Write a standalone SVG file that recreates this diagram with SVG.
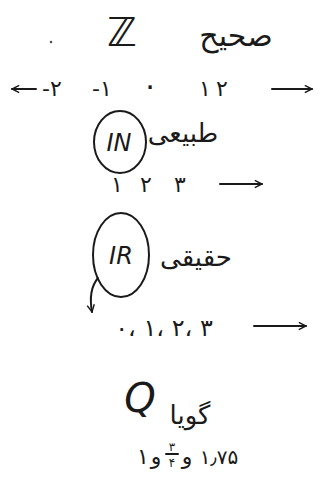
<svg xmlns="http://www.w3.org/2000/svg" width="326" height="484" viewBox="0 0 326 484">
<style>
text{font-family:"DejaVu Sans",sans-serif;fill:#1a1a1a;text-anchor:middle}
.w{font-size:26px}
.n{font-size:22px}
.big{font-size:40px;font-style:italic}
.lat{font-size:24px;font-style:italic}
.ln{fill:none;stroke:#1a1a1a;stroke-width:2;stroke-linecap:round}
</style>
<defs>
<marker id="ah" viewBox="0 0 10 10" refX="9" refY="5" markerWidth="9" markerHeight="9" orient="auto" markerUnits="userSpaceOnUse">
<path d="M1,1 L9,5 L1,9" fill="none" stroke="#1a1a1a" stroke-width="1.6"/>
</marker>
</defs>
<rect width="326" height="484" fill="#ffffff"/>
<circle cx="51" cy="42" r="1.3" fill="#555"/>
<g id="integers">
<text class="big" x="122" y="46">ℤ</text>
<text class="w" style="font-size:30px" x="236" y="46">صحیح</text>
<text class="n" x="52" y="96">-۲</text>
<text class="n" x="102" y="96">-۱</text>
<text class="n" style="font-size:30px" x="150" y="96">۰</text>
<text class="n" x="205" y="96">۱</text>
<text class="n" x="222" y="96">۲</text>
</g>
<g id="naturals">
<ellipse class="ln" cx="120" cy="142" rx="26" ry="31"/>
<text class="lat" x="119" y="151">IN</text>
<text class="w" x="183" y="142">طبیعی</text>
<text class="n" x="117" y="192">۱</text>
<text class="n" x="146" y="192">۲</text>
<text class="n" x="180" y="192">۳</text>
</g>
<g id="reals">
<ellipse class="ln" cx="121" cy="255" rx="28" ry="42"/>
<text class="lat" x="121" y="264">IR</text>
<text class="w" x="196" y="266">حقیقی</text>
<text class="n" style="font-size:24px;letter-spacing:2px" x="164" y="336">۰، ۱، ۲، ۳</text>
</g>
<g id="rationals">
<text class="big" x="140" y="412">Q</text>
<text class="w" x="190" y="424">گویا</text>
<text class="n" x="143" y="464">۱</text>
<text class="n" x="156" y="464">و</text>
<text style="font-size:12px" x="172" y="451">۳</text>
<line class="ln" x1="166" y1="454" x2="178" y2="454" stroke-width="1.2"/>
<text style="font-size:12px" x="172" y="467">۴</text>
<text class="n" x="187" y="464">و</text>
<text class="n" style="font-size:20px" x="219" y="464">۱٫۷۵</text>
</g>
<g id="connectors">
<path class="ln" d="M36,89 L12,89" marker-end="url(#ah)"/>
<line class="ln" x1="272" y1="89" x2="312" y2="89" marker-end="url(#ah)"/>
<line class="ln" x1="220" y1="184" x2="262" y2="184" marker-end="url(#ah)"/>
<path class="ln" d="M98,278 Q88,290 92,312" marker-end="url(#ah)"/>
<line class="ln" x1="254" y1="326" x2="306" y2="326" marker-end="url(#ah)"/>
</g>
</svg>
